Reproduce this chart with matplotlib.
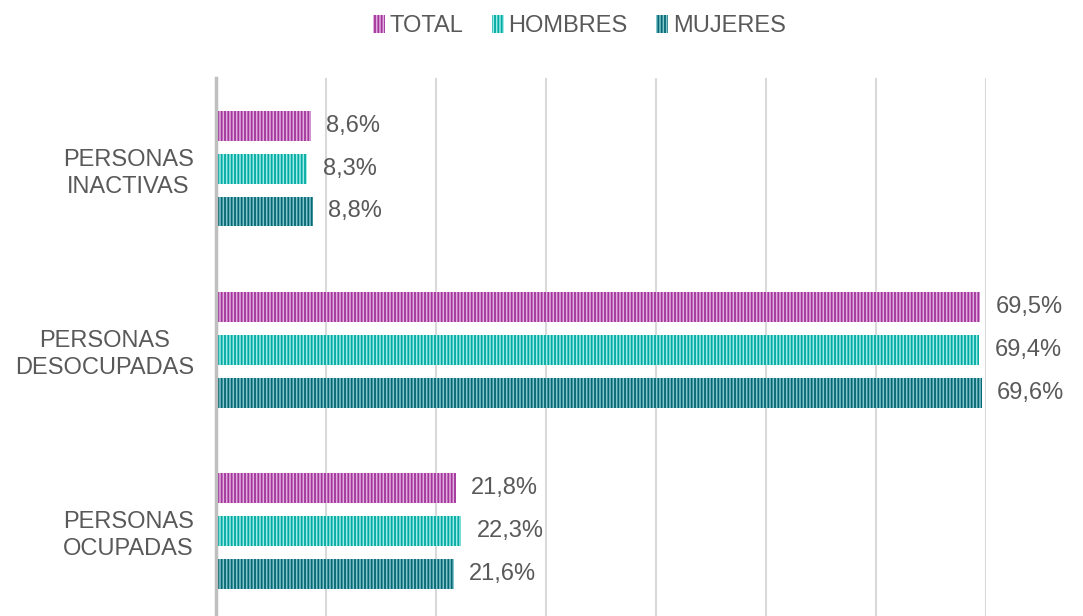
import numpy as np
import matplotlib.pyplot as plt

plt.rcParams['font.family'] = ['Liberation Sans', 'DejaVu Sans']
plt.rcParams['hatch.linewidth'] = 1.3

categories = ['PERSONAS\nINACTIVAS', 'PERSONAS\nDESOCUPADAS', 'PERSONAS\nOCUPADAS']
series = ['TOTAL', 'HOMBRES', 'MUJERES']
total = [8.6, 69.5, 21.8]
hombres = [8.3, 69.4, 22.3]
mujeres = [8.8, 69.6, 21.6]
values = [total, hombres, mujeres]

# (stripe colour, background colour)
colors = [('#a2349c', '#e2b0df'), ('#00aaa2', '#a0ebe6'), ('#046874', '#86c6cd')]
text_color = '#595959'
fs = 17

fig = plt.figure(figsize=(10.83, 6.16), dpi=100)
ax = fig.add_axes([0.1995, 0.0, 0.7109, 0.8734])

y = np.arange(len(categories))
offsets = [-0.237, 0.0, 0.237]
bar_h = 0.165

handles = []
for vals, off, (dark, light), name in zip(values, offsets, colors, series):
    bars = ax.barh(y + off, vals, height=bar_h, color=light, edgecolor=dark,
                   hatch='|||||', linewidth=0, label=name, zorder=3)
    handles.append(bars)
    for b, v in zip(bars, vals):
        ax.annotate(f'{v:.1f}%'.replace('.', ','),
                    xy=(b.get_width(), b.get_y() + b.get_height() / 2),
                    xytext=(11, 0), textcoords='offset points',
                    va='center', ha='left', fontsize=fs, color=text_color)

ax.set_xlim(0, 70)
ax.set_ylim(2.47, -0.5)
ax.set_xticks(np.arange(0, 71, 10))
ax.set_xticklabels([])
ax.tick_params(axis='x', length=0)
ax.xaxis.grid(True, color='#d9d9d9', linewidth=1.5, zorder=0)
ax.set_axisbelow(True)

ax.set_yticks(y)
ax.set_yticklabels(categories, fontsize=fs, color=text_color,
                   linespacing=1.3, ha='right', multialignment='center')
ax.tick_params(axis='y', length=0, pad=16)

for s in ['top', 'right', 'bottom']:
    ax.spines[s].set_visible(False)
ax.spines['left'].set_color('#bfbfbf')
ax.spines['left'].set_linewidth(2.5)
ax.spines['left'].set_zorder(4)

fig.legend(handles=handles, labels=series, loc='upper center',
           bbox_to_anchor=(0.535, 1.01), ncol=3, frameon=False,
           fontsize=fs, labelcolor=text_color, handlelength=0.5,
           handleheight=0.8, handletextpad=0.2, columnspacing=1.2)

fig.savefig('out.png', dpi=100)
